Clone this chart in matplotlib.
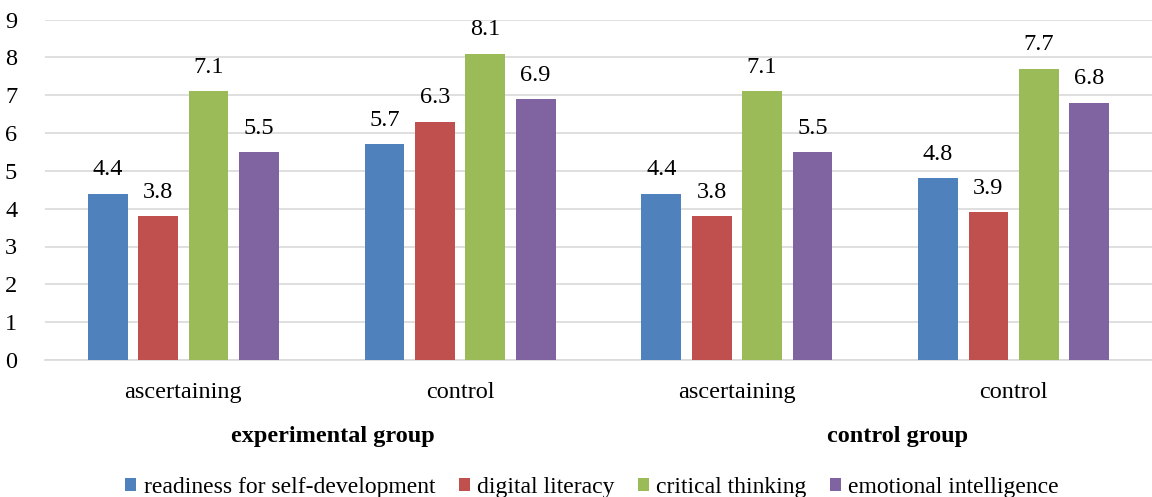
import numpy as np
import matplotlib.pyplot as plt
from matplotlib import transforms

plt.rcParams['font.family'] = ['Liberation Serif', 'DejaVu Serif']

# Data
stages = ['ascertaining', 'control', 'ascertaining', 'control']
groups = ['experimental group', 'control group']
series = ['readiness for self-development', 'digital literacy',
          'critical thinking', 'emotional intelligence']
readiness = [4.4, 5.7, 4.4, 4.8]
literacy = [3.8, 6.3, 3.8, 3.9]
thinking = [7.1, 8.1, 7.1, 7.7]
emotional = [5.5, 6.9, 5.5, 6.8]
colors = ['#4F81BD', '#C0504D', '#9BBB59', '#8064A2']

values = [readiness, literacy, thinking, emotional]

fig = plt.figure(figsize=(11.52, 4.97), dpi=100)
ax = fig.add_axes([45/1152, 137/497, 1107/1152, 340.5/497])

x = np.arange(len(stages))
width = 0.144
pitch = 0.182
fs = 17.5
for i, (vals, c, name) in enumerate(zip(values, colors, series)):
    pos = x + (i - 1.5) * pitch
    bars = ax.bar(pos, vals, width, color=c, label=name, zorder=3)
    for b, v in zip(bars, vals):
        ax.text(b.get_x() + b.get_width()/2, v + 0.63, f'{v:.1f}',
                ha='center', va='center', fontsize=fs)

ax.set_xlim(-0.5, 3.5)
ax.set_ylim(0, 9)
ax.set_yticks(range(0, 10))
ax.yaxis.grid(True, color='#d9d9d9', lw=1.2, zorder=0)
ax.set_xticks(x)
ax.set_xticklabels(stages, fontsize=fs)
ax.tick_params(axis='both', length=0, labelsize=fs)
ax.tick_params(axis='x', pad=16)
ax.tick_params(axis='y', pad=20)
for s in ['top', 'right', 'left']:
    ax.spines[s].set_visible(False)
ax.spines['bottom'].set_color('#d9d9d9')
ax.spines['bottom'].set_linewidth(1.2)

# group captions under the category labels
trans = transforms.blended_transform_factory(ax.transData, ax.transAxes)
for j, g in enumerate(groups):
    ax.text(2*j + 0.54 + 0.04*j, -0.225, g, transform=trans, ha='center', va='center',
            fontsize=fs, fontweight='bold')

fig.legend(loc='center', bbox_to_anchor=(0.514, 0.02), ncol=4, frameon=False,
           fontsize=17, handlelength=0.47, handleheight=0.47, handletextpad=0.3,
           columnspacing=1.0)

fig.savefig('out.png', dpi=100)
